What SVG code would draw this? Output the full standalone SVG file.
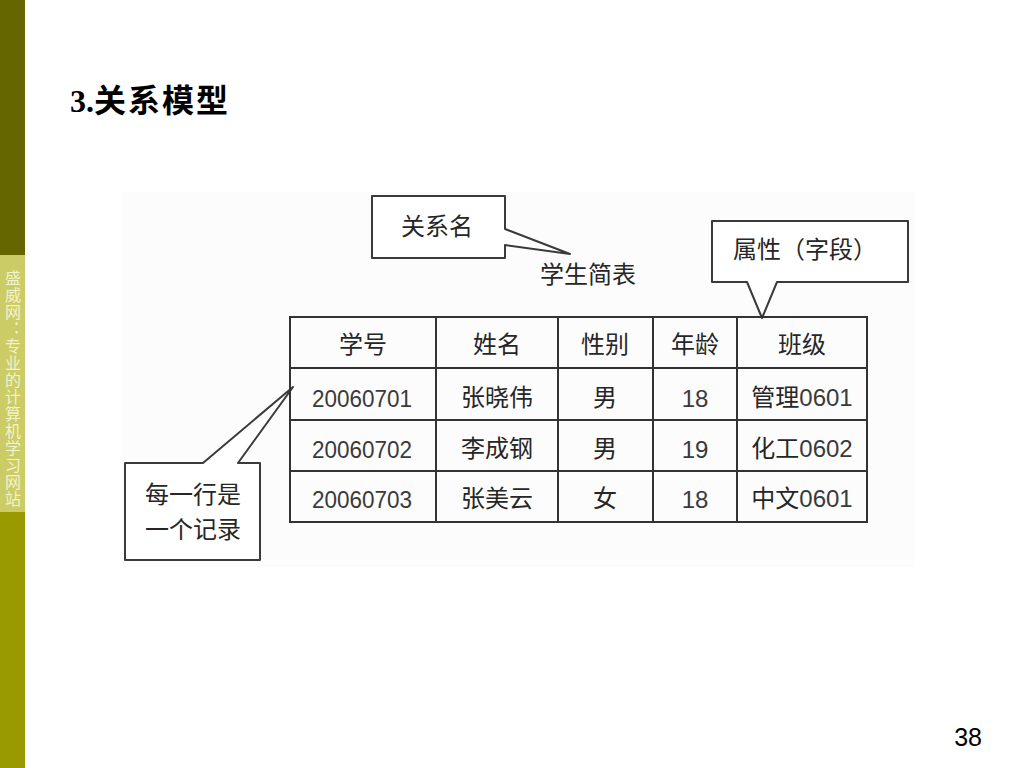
<svg xmlns="http://www.w3.org/2000/svg" width="1024" height="768" viewBox="0 0 1024 768">
<style>
.cj{font-family:"Noto Sans CJK SC","Liberation Sans",sans-serif;font-size:24px;fill:#262626;text-anchor:middle}
.num{font-family:"Liberation Sans","Noto Sans CJK SC",sans-serif;font-size:24px;fill:#3a3a3a;text-anchor:middle}
.call{fill:#ffffff;stroke:#3a3a3a;stroke-width:2;stroke-linejoin:round}
.grid{stroke:#333333;stroke-width:2;fill:none}
</style>
<rect width="1024" height="768" fill="#ffffff"/>
<g id="sidebar">
<rect x="0" y="0" width="25" height="255" fill="#666600"/>
<rect x="0" y="255" width="25" height="257" fill="#cccc66"/>
<rect x="0" y="512" width="25" height="256" fill="#999900"/>
<text x="13" y="270" writing-mode="vertical-rl" letter-spacing="1" font-family="Noto Sans CJK SC,sans-serif" font-size="16" fill="#f2f2cc">盛威网：专业的计算机学习网站</text>
</g>
<g id="title">
<text x="70" y="112" font-family="Liberation Serif,Noto Sans CJK SC,serif" font-size="32" font-weight="bold" fill="#000000">3.<tspan font-family="Noto Sans CJK SC,sans-serif" letter-spacing="2">关系模型</tspan></text>
</g>
<rect id="picture-bg" x="122" y="192" width="793" height="375" fill="#fcfcfc"/>
<g id="callout-relname">
<path class="call" d="M372,196 H505 V229 L570,254 L505,245 V258 H372 Z"/>
<text class="cj" x="437" y="235">关系名</text>
</g>
<g id="table-name">
<text class="cj" x="588" y="283">学生简表</text>
</g>
<g id="callout-attr">
<path class="call" d="M712,221 H908 V282 H777 L762,318 L747,282 H712 Z"/>
<text class="cj" x="805" y="258">属性（字段）</text>
</g>
<g id="callout-record">
<path class="call" d="M125,463 H203 L293,387 L238,463 H260 V560 H125 Z"/>
<text class="cj" x="193" y="503" font-size="25">每一行是</text>
<text class="cj" x="193" y="538" font-size="25">一个记录</text>
</g>
<g id="table">
<rect class="grid" x="290" y="317" width="577" height="205" fill="#ffffff"/>
<path class="grid" d="M290,368 H867 M290,420 H867 M290,471 H867 M436,317 V522 M558,317 V522 M653,317 V522 M737,317 V522"/>
<text class="cj" x="363" y="353">学号</text>
<text class="cj" x="497" y="353">姓名</text>
<text class="cj" x="605" y="353">性别</text>
<text class="cj" x="695" y="353">年龄</text>
<text class="cj" x="802" y="353">班级</text>
<text class="num" x="362" y="407" textLength="100" lengthAdjust="spacingAndGlyphs">20060701</text>
<text class="cj" x="497" y="406">张晓伟</text>
<text class="cj" x="605" y="406">男</text>
<text class="num" x="695" y="407">18</text>
<text class="cj" x="802" y="406">管理<tspan class="num">0601</tspan></text>
<text class="num" x="362" y="458" textLength="100" lengthAdjust="spacingAndGlyphs">20060702</text>
<text class="cj" x="497" y="457">李成钢</text>
<text class="cj" x="605" y="457">男</text>
<text class="num" x="695" y="458">19</text>
<text class="cj" x="802" y="457">化工<tspan class="num">0602</tspan></text>
<text class="num" x="362" y="508" textLength="100" lengthAdjust="spacingAndGlyphs">20060703</text>
<text class="cj" x="497" y="507">张美云</text>
<text class="cj" x="605" y="507">女</text>
<text class="num" x="695" y="508">18</text>
<text class="cj" x="802" y="507">中文<tspan class="num">0601</tspan></text>
</g>
<g id="connectors"></g>
<g id="page-number">
<text x="982" y="746" text-anchor="end" font-family="Liberation Sans,sans-serif" font-size="25" fill="#000000">38</text>
</g>
</svg>
